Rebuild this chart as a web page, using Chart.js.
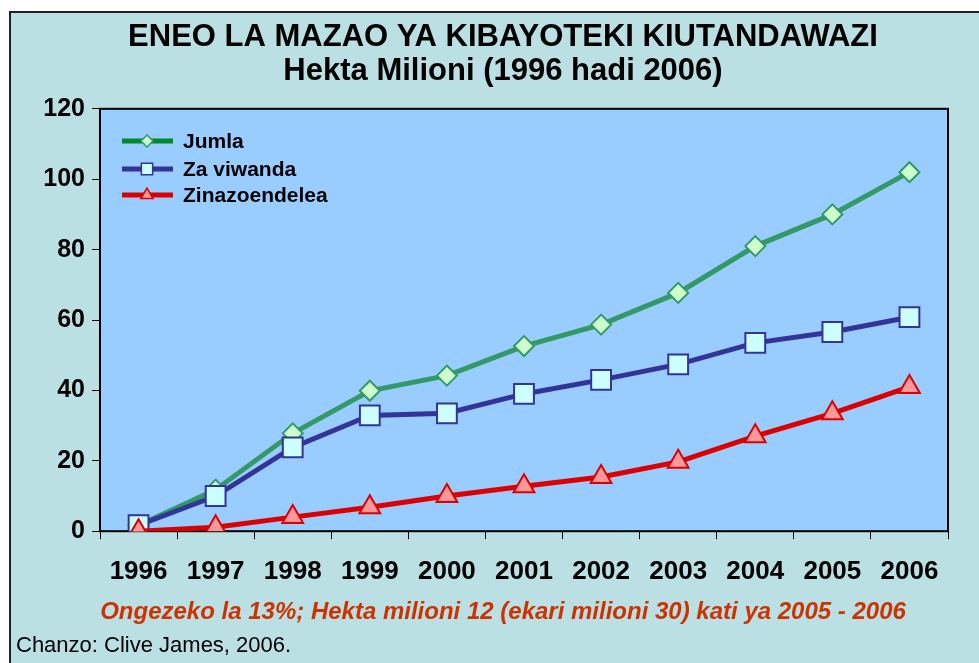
<!DOCTYPE html>
<html>
<head>
<meta charset="utf-8">
<script src="https://cdn.jsdelivr.net/npm/chart.js@4.4.2/dist/chart.umd.min.js"></script>
<style>
  html, body { margin: 0; padding: 0; background: #fff; }
  body { width: 979px; height: 663px; position: relative; overflow: hidden; font-family: "Liberation Sans", Arial, sans-serif; }
  #frame { position: absolute; left: 9px; top: 11px; width: 990px; height: 680px; background: #bae0e3; border-left: 2px solid #222; border-top: 2px solid #222; }
  #wrap { position: absolute; left: 0; top: 0; width: 979px; height: 663px; }
  #source { position: absolute; left: 16px; top: 632px; font-size: 22px; color: #000; }
</style>
</head>
<body>
<div id="frame"></div>
<div id="wrap"><canvas id="chart" width="979" height="663"></canvas></div>
<div id="source">Chanzo: Clive James, 2006.</div>
<script>
const years = ['1996', '1997', '1998', '1999', '2000', '2001', '2002', '2003', '2004', '2005', '2006'];
const jumla = [1.7, 11.8, 27.8, 39.9, 44.2, 52.6, 58.7, 67.7, 81.0, 90.0, 102.0];
const zaViwanda = [1.7, 10.0, 23.8, 32.9, 33.5, 39.0, 43.0, 47.4, 53.5, 56.6, 60.8];
const zinazoendelea = [0.0, 1.1, 4.0, 6.8, 10.0, 12.8, 15.4, 19.7, 27.0, 33.5, 41.0];
const yTicks = [0, 20, 40, 60, 80, 100, 120];

const FONT = '"Liberation Sans", Arial, sans-serif';

const plotArea = {
  id: 'plotArea',
  beforeDatasetsDraw(chart) {
    const { ctx, chartArea: a } = chart;
    ctx.save();
    ctx.fillStyle = '#99ccff';
    ctx.fillRect(a.left, a.top, a.right - a.left, a.bottom - a.top);
    ctx.strokeStyle = '#000';
    ctx.lineWidth = 2;
    ctx.strokeRect(a.left, a.top, a.right - a.left, a.bottom - a.top);
    ctx.restore();
  }
};

// the original centres its title block a bit right of the canvas middle
const shiftTitles = {
  id: 'shiftTitles',
  afterLayout(chart) {
    chart.boxes.forEach(box => {
      if (box.options && box.options.text !== undefined) {
        box.left += 29;
        box.right += 29;
      }
    });
  }
};

// legend drawn as line + marker, like the original
const lineLegend = {
  id: 'lineLegend',
  afterDraw(chart) {
    const { ctx, chartArea: a } = chart;
    const rows = [141, 169, 195];
    ctx.save();
    chart.data.datasets.forEach((ds, i) => {
      const y = rows[i];
      const x0 = a.left + 22;
      ctx.strokeStyle = ds.legendColor;
      ctx.lineWidth = 5;
      ctx.beginPath();
      ctx.moveTo(x0, y);
      ctx.lineTo(x0 + 51, y);
      ctx.stroke();
      ctx.fillStyle = ds.pointBackgroundColor;
      ctx.strokeStyle = ds.pointBorderColor;
      ctx.lineWidth = 1.5;
      Chart.helpers.drawPoint(ctx, {
        pointStyle: ds.pointStyle,
        rotation: 0,
        radius: ds.legendRadius,
        borderWidth: 1.5
      }, x0 + 25, y);
      ctx.fillStyle = '#000';
      ctx.font = 'bold 21px ' + FONT;
      ctx.textBaseline = 'middle';
      ctx.textAlign = 'left';
      ctx.fillText(ds.label, x0 + 61, y + 1);
    });
    ctx.restore();
  }
};

new Chart(document.getElementById('chart'), {
  type: 'line',
  data: {
    labels: years,
    datasets: [{
      label: 'Jumla',
      data: jumla,
      borderColor: '#339966',
      legendColor: '#00882a',
      borderWidth: 5,
      pointStyle: 'rectRot',
      pointRadius: 10,
      legendRadius: 6,
      pointBackgroundColor: '#ccffcc',
      pointBorderColor: '#339966',
      pointBorderWidth: 2,
      order: 3
    }, {
      label: 'Za viwanda',
      data: zaViwanda,
      borderColor: '#333399',
      legendColor: '#333399',
      borderWidth: 5,
      pointStyle: 'rect',
      pointRadius: 14,
      legendRadius: 8,
      pointBackgroundColor: '#ccffff',
      pointBorderColor: '#333399',
      pointBorderWidth: 2,
      order: 2
    }, {
      label: 'Zinazoendelea',
      data: zinazoendelea,
      borderColor: '#dd0000',
      legendColor: '#dd0000',
      borderWidth: 5,
      pointStyle: 'triangle',
      pointRadius: 12,
      legendRadius: 7,
      pointBackgroundColor: '#ff9999',
      pointBorderColor: '#dd0000',
      pointBorderWidth: 2,
      order: 1
    }]
  },
  options: {
    responsive: false,
    animation: false,
    layout: { padding: { left: 0, right: 31, top: 0, bottom: 0 } },
    plugins: {
      legend: { display: false },
      tooltip: { enabled: false },
      title: {
        display: true,
        text: ['ENEO LA MAZAO YA KIBAYOTEKI KIUTANDAWAZI', 'Hekta Milioni (1996 hadi 2006)'],
        color: '#000',
        font: { family: FONT, size: 31, weight: 'bold', lineHeight: 1.11 },
        padding: { top: 20, bottom: 20 }
      },
      subtitle: {
        display: true,
        position: 'bottom',
        text: 'Ongezeko la 13%; Hekta milioni 12 (ekari milioni 30) kati ya 2005 - 2006',
        color: '#cc3300',
        font: { family: FONT, size: 24, weight: 'bold', style: 'italic', lineHeight: 1.2 },
        padding: { top: 12, bottom: 36 }
      }
    },
    scales: {
      x: {
        offset: true,
        afterFit(scale) { scale.height = 55; },
        grid: { display: true, offset: true, drawOnChartArea: false, drawTicks: true, tickLength: 8, color: '#000', lineWidth: 1 },
        border: { display: true, color: '#000', width: 2 },
        ticks: {
          color: '#000',
          padding: 17,
          maxRotation: 0,
          autoSkip: false,
          font: { family: FONT, size: 26, weight: 'bold' }
        }
      },
      y: {
        min: 0,
        max: 120,
        afterFit(scale) { scale.width = 100; },
        afterBuildTicks(scale) { scale.ticks = yTicks.map(v => ({ value: v })); },
        grid: { display: true, drawOnChartArea: false, drawTicks: true, tickLength: 8, color: '#000', lineWidth: 1 },
        border: { display: true, color: '#000', width: 2 },
        ticks: {
          color: '#000',
          padding: 7,
          font: { family: FONT, size: 25, weight: 'bold' }
        }
      }
    }
  },
  plugins: [plotArea, shiftTitles, lineLegend]
});
</script>
</body>
</html>
